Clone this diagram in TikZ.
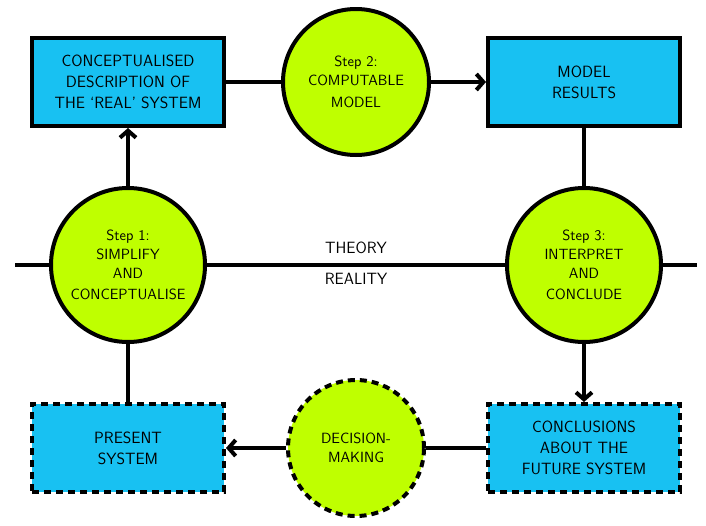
\documentclass[tikz,border=0pt]{standalone}
\usepackage{xcolor}
\usepackage{tikz}
\usetikzlibrary{shapes.geometric, arrows.meta, positioning, calc}
\definecolor{modelBlue}{RGB}{24, 193, 242}
\definecolor{stepGreen}{RGB}{191, 255, 0}

\begin{document}
\begin{tikzpicture}[
    x=1pt, y=-1pt,
    node distance=58pt and 55pt,
    every node/.style={font=\fontsize{16.3}{20.7}\selectfont\sffamily},
    modelbox/.style={
        rectangle,
        draw=black,
        line width=4pt,
        fill=modelBlue,
        minimum width=192pt,
        minimum height=88pt,
        align=center
    },
    stepcircle/.style={
        circle,
        draw=black,
        line width=4pt,
        fill=stepGreen,
        minimum size=154pt,
        inner sep=0pt,
        align=center,
        font=\fontsize{14.8}{19}\selectfont\sffamily
    },
    future/.style={dash pattern=on 7pt off 5pt},
    link/.style={line width=4pt},
    arrowlink/.style={line width=4pt, -{Straight Barb[length=7pt,width=16pt]}}
]
    \useasboundingbox (0,0) rectangle (706,525);

    \node[stepcircle] (simplify) at (128,265) {Step 1:\\SIMPLIFY\\AND\\[2pt]CONCEPTUALISE};
    \node[modelbox, above=of simplify] (concept) {CONCEPTUALISED\\DESCRIPTION OF\\THE `REAL' SYSTEM};
    \node[stepcircle, minimum size=146pt, right=of concept] (computable) {Step 2:\\COMPUTABLE\\[3pt]MODEL};
    \node[modelbox, right=of computable] (results) {MODEL\\RESULTS};
    \node[stepcircle, below=of results] (interpret) {Step 3:\\INTERPRET\\AND\\[2pt]CONCLUDE};
    \node[modelbox, future, below=of interpret] (conclusions) {CONCLUSIONS\\ABOUT THE\\FUTURE SYSTEM};
    \node[modelbox, future, below=of simplify] (present) {PRESENT\\SYSTEM};
    \node[stepcircle, future, minimum size=136pt] (decision) at (computable |- present) {DECISION-\\MAKING};

    \coordinate (leftend) at (15,265);
    \coordinate (rightend) at (697,265);

    % theory / reality divide
    \draw[link] (leftend) -- (simplify);
    \draw[link] (simplify) -- node[above=9pt, inner sep=0pt] {THEORY} node[below=6pt, inner sep=0pt] {REALITY} (interpret);
    \draw[link] (interpret) -- (rightend);

    % modelling cycle
    \draw[arrowlink] (simplify) -- (concept);
    \draw[link] (concept) -- (computable);
    \draw[arrowlink] (computable) -- (results);
    \draw[link] (results) -- (interpret);
    \draw[arrowlink] (interpret) -- (conclusions);
    \draw[link] (conclusions) -- (decision);
    \draw[arrowlink] (decision) -- (present);
    \draw[link] (present) -- (simplify);

\end{tikzpicture}
\end{document}
